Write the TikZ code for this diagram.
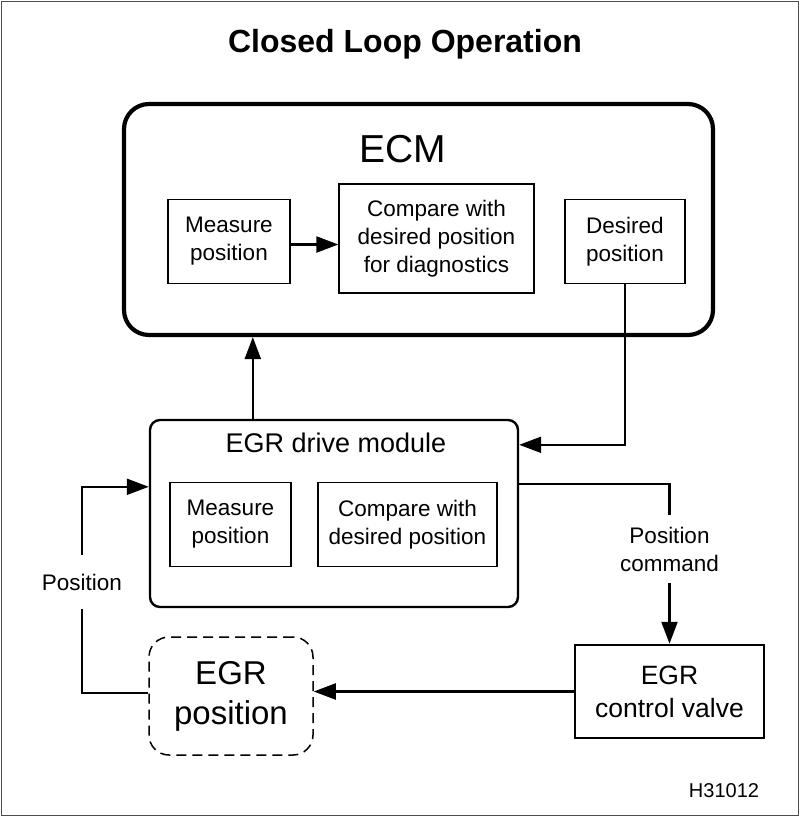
\documentclass[tikz,border=0pt]{standalone}
\usepackage{fontspec}
\setmainfont{Liberation Sans}
\usetikzlibrary{arrows.meta}
\tikzset{
  box/.style={draw, line width=1.3pt, inner sep=0pt, align=center, font=\fontsize{22.5}{28}\selectfont},
  conn/.style={line width=2.2pt},
  arr/.style={conn, -{Triangle[length=22pt,width=16pt]}},
  lbl/.style={inner sep=0pt, align=center, font=\fontsize{22.5}{28}\selectfont},
}
\begin{document}
\begin{tikzpicture}[x=1pt,y=-1pt]
\useasboundingbox (0,0) rectangle (800,817);
\draw[line width=1.2pt, black!70] (1.5,1.5) rectangle (798.5,815.5);

\node[font=\bfseries\fontsize{32}{36}\selectfont, inner sep=0pt] (title) at (405,44) {Closed Loop Operation};

% ECM
\node[draw, line width=4.2pt, rounded corners=25pt, minimum width=589pt, minimum height=231pt, inner sep=0pt] (ecm) at (418.5,219.5) {};
\node[font=\fontsize{39}{44}\selectfont, inner sep=0pt] (ecmlbl) at (403,149) {ECM};
\node[box, minimum width=122pt, minimum height=84pt] (m1) at (229,241.5) {Measure\\position};
\node[box, minimum width=195pt, minimum height=109pt] (c1) at (436.5,238.5) {Compare with\\desired position\\for diagnostics};
\node[box, minimum width=120pt, minimum height=84pt] (d1) at (625,241.5) {Desired\\position};

% EGR drive module
\node[draw, line width=2.4pt, rounded corners=10pt, minimum width=368pt, minimum height=187pt, inner sep=0pt] (drive) at (334,513.5) {};
\node[font=\fontsize{27}{32}\selectfont, inner sep=0pt] (drivelbl) at (336,443) {EGR drive module};
\node[box, minimum width=121pt, minimum height=84pt] (m2) at (230.5,524.5) {Measure\\position};
\node[box, minimum width=179pt, minimum height=84pt] (c2) at (407.5,524.5) {Compare with\\desired position};

% EGR control valve
\node[draw, line width=2.5pt, inner sep=0pt, align=center, minimum width=189pt, minimum height=93pt, font=\fontsize{26.5}{33}\selectfont] (valve) at (669.5,691.5) {EGR\\control valve};

% EGR position
\node[draw, line width=1.5pt, dash pattern=on 10pt off 6pt, rounded corners=20pt, inner sep=0pt, align=center, minimum width=164pt, minimum height=118pt, font=\fontsize{33}{40}\selectfont] (egrpos) at (231,696) {EGR\\position};

% labels
\node[lbl, minimum height=68pt] (pc) at (669.5,549) {Position\\command};
\node[lbl, minimum height=54pt] (pos) at (82,582) {Position};
\node[inner sep=0pt, font=\fontsize{20}{24}\selectfont] (code) at (724,791) {H31012};

% connectors
\draw[arr] ([yshift=-3pt]m1.east) -- ([yshift=-3pt]m1.east -| c1.west);
\draw[arr] (d1.south) |- ([yshift=-26pt]drive.north east);
\draw[arr] ([xshift=104pt]drive.north west) -- ([xshift=104pt]drive.north west |- ecm.south);
\draw[conn] ([yshift=-65pt]drive.north east) -| (pc.north);
\draw[arr] (pc.south) -- (valve.north);
\draw[arr] (valve.west) -- (valve.west -| egrpos.east);
\draw[conn] ([yshift=3pt]egrpos.west) -| (pos.south);
\draw[arr] (pos.north) |- ([yshift=-68pt]drive.north west);
\end{tikzpicture}
\end{document}
